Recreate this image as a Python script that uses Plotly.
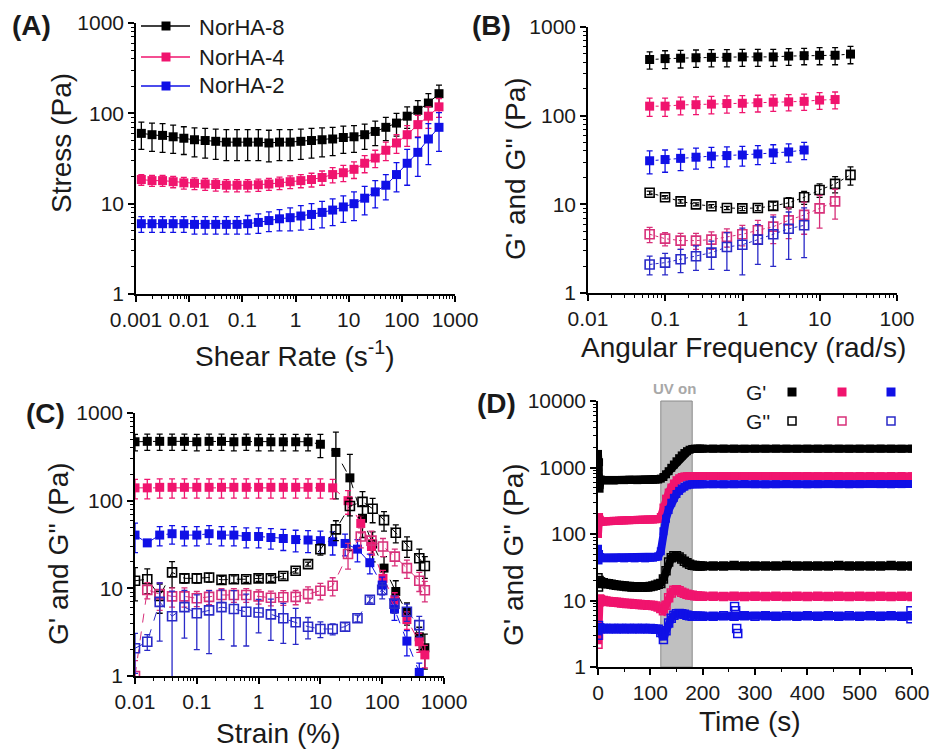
import plotly.graph_objects as go

W, H = 932, 751
FONT = "Liberation Sans, Arial, sans-serif"
BLACK = "#000000"
PINK = "#f0146e"
BLUE = "#1010e6"
PINK_OPEN = "#d8307a"
BLUE_OPEN = "#2a2ac8"

# ---------------- (A) flow sweep: stress vs shear rate ----------------
shear_rate = [0.00126, 0.002, 0.00316, 0.005, 0.00794, 0.0126, 0.02, 0.0316, 0.05, 0.0794,
              0.126, 0.2, 0.316, 0.5, 0.794, 1.26, 2, 3.16, 5, 7.94,
              12.6, 20, 31.6, 50, 79.4, 126, 200, 316, 500]
stress_8 = [60, 58, 57, 55, 53, 51, 50, 49, 48, 48, 48, 48, 47, 48, 48, 49, 50, 51, 52, 54,
            55, 58, 63, 70, 78, 93, 108, 130, 165]
stress_8_err = [20, 20, 20, 19, 18, 18, 18, 18, 18, 18, 18, 18, 18, 18, 18, 18, 18, 18, 18, 18,
                18, 18, 19, 20, 22, 25, 30, 35, 40]
stress_4 = [18.5, 18, 18, 17.5, 17, 16.8, 16.5, 16.3, 16, 16, 16, 16.2, 16.5, 17, 17.5, 18, 18.5, 19.5, 21, 22,
            24, 28, 32, 39, 47, 58, 75, 93, 118]
stress_4_err = [2.5, 2.5, 2.5, 2.5, 2.5, 2.5, 2.5, 2.5, 2.5, 2.5, 2.5, 2.5, 2.5, 2.7, 2.8, 3, 3.2, 3.5, 4, 4.5,
                5, 6, 7, 9, 11, 15, 20, 25, 28]
stress_2 = [6, 6, 6, 6, 6, 5.9, 5.9, 5.9, 5.9, 5.9, 6, 6.2, 6.5, 6.8, 7, 7.3, 7.6, 8, 8.5, 9.2,
            10, 11.5, 13.5, 16, 21, 28, 37, 52, 70]
stress_2_err = [1.2, 1.2, 1.2, 1.2, 1.2, 1.3, 1.3, 1.3, 1.3, 1.3, 1.4, 1.5, 1.6, 1.8, 2, 2.2, 2.4, 2.6, 2.8, 3,
                3.5, 4, 4.5, 5, 7.5, 12, 17, 25, 32]
series_names = ["NorHA-8", "NorHA-4", "NorHA-2"]

# ---------------- (B) frequency sweep ----------------
ang_freq = [0.0628, 0.0995, 0.158, 0.25, 0.396, 0.628, 0.995, 1.58, 2.5, 3.96, 6.28, 9.95, 15.8, 25]
gp_b_8 = [430, 440, 445, 450, 455, 455, 460, 460, 460, 470, 475, 480, 480, 495]
gp_b_8_err = [95, 100, 100, 100, 100, 100, 100, 100, 100, 100, 100, 105, 105, 110]
gp_b_4 = [128, 128, 132, 133, 135, 137, 138, 140, 142, 143, 145, 150, 152]
gp_b_4_err = [30, 30, 30, 30, 30, 30, 30, 30, 30, 30, 30, 32, 33]
gp_b_2 = [31, 32, 33, 34, 35, 35.5, 36, 37, 38, 39, 41]
gp_b_2_err = [9, 9, 9, 9, 9, 9, 9, 9, 9, 9, 9]
gpp_b_8 = [13.5, 12, 10.8, 10, 9.5, 9.1, 9.0, 9.1, 9.6, 10.4, 12, 14.5, 17, 21.5]
gpp_b_8_err = [0.6, 0.5, 0.5, 0.4, 0.4, 0.4, 0.5, 0.6, 1, 1.5, 2, 2.5, 3.5, 5]
gpp_b_4 = [4.6, 4.1, 3.9, 3.9, 4.0, 4.3, 4.6, 5.1, 5.6, 6.6, 7.6, 9.0, 10.8]
gpp_b_4_err = [0.9, 0.7, 0.8, 0.8, 0.9, 1.0, 1.2, 1.5, 2.0, 2.5, 3.0, 3.6, 4.0]
gpp_b_2 = [2.1, 2.2, 2.4, 2.6, 2.85, 3.3, 3.5, 4.0, 4.6, 5.3, 5.8]
gpp_b_2_err = [0.5, 0.6, 0.7, 0.8, 1.0, 1.5, 1.9, 1.9, 2.6, 2.9, 3.3]

# ---------------- (C) strain sweep ----------------
strain_8 = [0.01, 0.0158, 0.0251, 0.0398, 0.0631, 0.1, 0.158, 0.251, 0.398, 0.631, 1, 1.58, 2.51,
            3.98, 6.31, 10, 17.8, 30, 48, 70, 107, 166, 252, 398, 490]
strain_4 = [0.01, 0.0158, 0.0251, 0.0398, 0.0631, 0.1, 0.158, 0.251, 0.398, 0.631, 1, 1.58, 2.51,
            3.98, 6.31, 10, 15.8, 28, 45, 67, 103, 160, 251, 398, 490]
strain_2 = [0.01, 0.0158, 0.0251, 0.0398, 0.0631, 0.1, 0.158, 0.251, 0.398, 0.631, 1, 1.58, 2.51,
            3.98, 6.31, 10, 15.8, 25.1, 39.8, 63.1, 100, 158, 251, 398]
gp_c_8 = [470, 475, 475, 475, 475, 470, 475, 475, 470, 475, 470, 470, 470, 470, 470, 440, 355, 182,
          63, 32, 17, 9.2, 5.3, 2.8, 2.1]
gp_c_8_err = [100, 100, 100, 100, 100, 100, 100, 100, 100, 100, 100, 100, 100, 100, 100, 130, 250, 155,
              25, 12, 6, 3, 1.5, 0.8, 0.9]
gp_c_4 = [140, 140, 142, 142, 142, 142, 142, 142, 142, 142, 142, 142, 142, 142, 142, 142, 140, 100,
          55, 30, 13, 7.4, 4.4, 2.46, 1.74]
gp_c_4_err = [35, 35, 35, 35, 35, 35, 35, 35, 35, 35, 35, 35, 35, 35, 35, 35, 35, 30,
              12, 6, 3, 1.5, 1, 0.6, 0.5]
gp_c_2 = [40.5, 33, 40.5, 42, 40.5, 40.5, 42, 40.5, 40.5, 39, 39, 38, 37, 36, 35.6, 35, 34, 32.5,
          28, 19.6, 10.9, 5.8, 2.5, 1.1]
gp_c_2_err = [15, 2, 10, 10, 10, 10, 10, 10, 10, 10, 10, 10, 10, 10, 10, 10, 10, 9,
              8, 5, 2.5, 1.5, 0.8, 0.3]
gpp_c_8 = [12.2, 12.7, 8.2, 15.2, 13, 13, 13.3, 12.5, 12.7, 12.7, 13, 13, 13.8, 15.9, 18.9, 27.9, 47, 87,
           97, 81, 60, 43, 30.6, 22, 18]
gpp_c_8_err = [5, 4, 3, 5, 1.5, 1.5, 1.5, 1.2, 1.2, 1, 1, 1, 1, 1, 1, 4, 12, 20,
               30, 25, 15, 10, 8, 6, 5]
gpp_c_4 = [1.0, 9.6, 8.6, 8.1, 8.1, 7.7, 8.0, 8.4, 8.4, 8.4, 8.1, 7.8, 7.9, 8.0, 8.6, 9.4, 10.7, 24.6,
           39, 35, 30, 23, 17, 12.2, 9.5]
gpp_c_4_err = [0.5, 2, 3, 2, 2, 1.5, 1.5, 1.5, 1.5, 1.5, 1.5, 1.5, 1.5, 1.5, 1.8, 2, 2.5, 8,
               10, 10, 7, 5, 4, 3, 2.5]
gpp_c_2 = [2.07, 2.46, 7.0, 4.8, 6.1, 5.2, 5.6, 6.1, 5.8, 5.4, 5.3, 5.05, 4.55, 4.1, 3.65, 3.44, 3.44, 3.65,
           4.55, 7.4, 9.6, 6.7, 5.4, 3.8]
gpp_c_2_err = [1, 0.5, 4.5, 4.5, 3.4, 3.2, 3.8, 3.5, 3.6, 3.2, 2.2, 2.5, 2.2, 1.8, 1, 0.7, 0.5, 0.4,
               0.4, 0.6, 2, 1.5, 1.2, 1]

# ---------------- (D) time sweep with UV exposure ----------------
time_s = [0, 1, 2, 3, 4] + list(range(5, 201, 5)) + list(range(220, 601, 20))
gp_d_8 = [1600, 1000, 1200, 480, 640,
          660, 650, 640, 645, 650, 640, 645, 650, 650, 645, 650, 655, 650, 650, 645, 650, 650, 655, 650,
          650, 655, 655, 660,
          680, 720, 790, 880, 990, 1110, 1240, 1380, 1520, 1650, 1760, 1850, 1900, 1920, 1925, 1925, 1920,
          1920, 1925, 1920, 1915, 1920, 1920, 1925, 1920, 1915, 1920, 1920, 1925, 1920, 1915, 1920, 1920,
          1925, 1920, 1915, 1920]
gp_d_4 = [100, 150, 180, 165, 160,
          152, 154, 155, 156, 157, 158, 158, 159, 160, 160, 161, 161, 162, 162, 163, 163, 164, 164, 165,
          165, 165, 166, 168,
          180, 250, 340, 420, 500, 575, 645, 690, 720, 735, 740, 745, 745, 745, 745, 745, 745,
          745, 740, 745, 745, 740, 745, 745, 740, 745, 745, 740, 745, 745, 740, 745, 745, 740, 745, 745, 740]
gp_d_2 = [60, 40, 50, 44, 45,
          44, 44, 43, 44, 44, 43, 44, 44, 44, 43, 44, 44, 44, 43, 44, 44, 44, 43, 44,
          44, 44, 45, 46,
          55, 110, 170, 230, 295, 350, 400, 445, 485, 515, 540, 555, 560, 562, 562, 562, 562,
          562, 560, 562, 565, 562, 560, 562, 565, 562, 560, 562, 565, 562, 560, 562, 565, 562, 560, 562, 565]
gpp_d_8 = [22, 16, 20, 18, 19,
           19, 18.5, 18, 17.8, 17.5, 17.3, 17, 16.8, 16.6, 16.5, 16.3, 16.2, 16, 16, 16, 15.8, 15.8, 16, 16,
           16.2, 16.5, 17, 17.5,
           18, 21, 28, 38, 44, 47, 47, 45, 42, 39, 37, 35, 34, 33.5, 33, 33, 33,
           33, 33, 33.5, 33, 33, 33, 33, 33.5, 33, 33, 33, 33, 33.5, 33, 33, 33, 33, 33.5, 33, 33]
gpp_d_4 = [2.2, 3.0, 9.5, 10.5, 10.3,
           10.2, 10, 9.8, 9.7, 9.6, 9.5, 9.4, 9.3, 9.2, 9.1, 9.0, 9.0, 8.9, 8.8, 8.8, 8.7, 8.6, 8.6, 8.5,
           8.5, 8.4, 8.3, 8.0,
           7.6, 7.0, 8.5, 11, 13, 14.3, 14.5, 14, 13.3, 12.8, 12.4, 12.1, 12, 11.8, 11.7, 11.6, 11.6,
           11.6, 11.5, 11.6, 11.5, 11.6, 11.5, 11.6, 11.5, 11.6, 11.5, 11.6, 11.5, 11.6, 11.5, 11.6, 11.5,
           11.6, 11.5, 11.6, 11.5]
gpp_d_2 = [3.0, 4.2, 3.9, 3.8, 3.8,
           3.8, 3.8, 3.8, 3.75, 3.8, 3.8, 3.75, 3.8, 3.8, 3.75, 3.8, 3.8, 3.75, 3.8, 3.8, 3.75, 3.8, 3.8,
           3.75, 3.8, 3.75, 3.7, 3.7,
           3.3, 2.6, 3.5, 4.6, 5.4, 6.0, 6.3, 6.4, 6.3, 6.2, 6.0, 5.9, 5.8, 5.8, 5.8, 5.8, 5.8,
           5.8, 5.9, 5.8, 5.9, 5.8, 5.9, 5.8, 5.9, 5.8, 5.9, 5.8, 5.9, 5.8, 5.9, 5.8, 5.9, 5.8, 5.9, 5.8, 5.9]
time_s_extra = [261, 263, 265, 267, 598, 598]
gpp_d_2_extra = [8.1, 7.0, 3.8, 3.2, 7.0, 5.3]
uv_on = [120, 180]


def xdom(left, right):
    return [left / W, right / W]


def ydom(top, bottom):
    return [1 - bottom / H, 1 - top / H]


def log_minor(lo, hi):
    return [m * 10 ** e for e in range(lo, hi) for m in range(2, 10)]


def base_axis(**kw):
    ax = dict(showline=True, linecolor="black", linewidth=1.5, ticks="outside", ticklen=6,
              tickwidth=1.5, tickcolor="black", showgrid=False, zeroline=False, mirror=False,
              automargin=False, tickfont=dict(family=FONT, size=21, color="#1a1a1a"))
    ax.update(kw)
    return ax


def log_axis(lo, hi, labels, **kw):
    return base_axis(type="log", range=[lo, hi], tickmode="array",
                     tickvals=[10 ** e for e in range(lo, hi + 1)], ticktext=labels,
                     minor=dict(tickmode="array", tickvals=log_minor(lo, hi), ticks="outside",
                                ticklen=3, tickwidth=1, tickcolor="black", showgrid=False),
                     **kw)


def err(arr, color):
    return dict(type="data", array=arr, visible=True, color=color, thickness=1.3, width=3)


fig = go.Figure()

# (A)
for y, e, c in [(stress_8, stress_8_err, BLACK), (stress_4, stress_4_err, PINK),
                (stress_2, stress_2_err, BLUE)]:
    fig.add_trace(go.Scatter(x=shear_rate, y=y, mode="lines+markers",
                             line=dict(color=c, width=1),
                             marker=dict(symbol="square", size=9, color=c),
                             error_y=err(e, c), xaxis="x", yaxis="y", showlegend=False))

# (B)
for x_len, y, e, c in [(14, gp_b_8, gp_b_8_err, BLACK), (13, gp_b_4, gp_b_4_err, PINK),
                       (11, gp_b_2, gp_b_2_err, BLUE)]:
    fig.add_trace(go.Scatter(x=ang_freq[:x_len], y=y, mode="lines+markers",
                             line=dict(color=c, width=1, dash="dot"),
                             marker=dict(symbol="square", size=9, color=c),
                             error_y=err(e, c), xaxis="x2", yaxis="y2", showlegend=False))
for x_len, y, e, c in [(14, gpp_b_8, gpp_b_8_err, BLACK), (13, gpp_b_4, gpp_b_4_err, PINK_OPEN),
                       (11, gpp_b_2, gpp_b_2_err, BLUE_OPEN)]:
    fig.add_trace(go.Scatter(x=ang_freq[:x_len], y=y, mode="lines+markers",
                             line=dict(color=c, width=1, dash="dot"),
                             marker=dict(symbol="square-open", size=9, color=c, line=dict(width=1.6)),
                             error_y=err(e, c), xaxis="x2", yaxis="y2", showlegend=False))

# (C)
for x, y, e, c in [(strain_8, gp_c_8, gp_c_8_err, BLACK), (strain_4, gp_c_4, gp_c_4_err, PINK),
                   (strain_2, gp_c_2, gp_c_2_err, BLUE)]:
    fig.add_trace(go.Scatter(x=x, y=y, mode="lines+markers",
                             line=dict(color=c, width=1, dash="dash"),
                             marker=dict(symbol="square", size=9, color=c),
                             error_y=err(e, c), xaxis="x3", yaxis="y3", showlegend=False))
for x, y, e, c in [(strain_8, gpp_c_8, gpp_c_8_err, BLACK), (strain_4, gpp_c_4, gpp_c_4_err, PINK_OPEN),
                   (strain_2, gpp_c_2, gpp_c_2_err, BLUE_OPEN)]:
    fig.add_trace(go.Scatter(x=x, y=y, mode="lines+markers",
                             line=dict(color=c, width=1, dash="dash"),
                             marker=dict(symbol="square-open", size=9, color=c, line=dict(width=1.6)),
                             error_y=err(e, c), xaxis="x3", yaxis="y3", showlegend=False))

# (D)
for y, c in [(gp_d_8, BLACK), (gp_d_4, PINK), (gp_d_2, BLUE)]:
    fig.add_trace(go.Scatter(x=time_s, y=y, mode="lines+markers",
                             line=dict(color=c, width=8),
                             marker=dict(symbol="square", size=8, color=c),
                             xaxis="x4", yaxis="y4", showlegend=False))
for y, c in [(gpp_d_8, BLACK), (gpp_d_4, PINK), (gpp_d_2, BLUE)]:
    fig.add_trace(go.Scatter(x=time_s, y=y, mode="lines+markers",
                             line=dict(color=c, width=8),
                             marker=dict(symbol="square-open", size=8, color=c, line=dict(width=1.5)),
                             xaxis="x4", yaxis="y4", showlegend=False))
fig.add_trace(go.Scatter(x=time_s_extra, y=gpp_d_2_extra, mode="markers",
                         marker=dict(symbol="square-open", size=8, color=BLUE, line=dict(width=1.5)),
                         xaxis="x4", yaxis="y4", showlegend=False))

shapes = [dict(type="rect", xref="x4", yref="y4 domain", x0=uv_on[0], x1=uv_on[1], y0=0, y1=1,
               fillcolor="#c0c0c0", line=dict(color="#8a8a8a", width=1), layer="below")]


def px_rect(xc, yc, half, fill, edge=None):
    return dict(type="rect", xref="paper", yref="paper",
                x0=(xc - half) / W, x1=(xc + half) / W, y0=1 - (yc + half) / H, y1=1 - (yc - half) / H,
                fillcolor=fill, line=dict(color=edge or fill, width=1.5 if edge else 0))


# key for (A): line with a square marker, per series
for yc, c in [(26, BLACK), (57, PINK), (86, BLUE)]:
    shapes.append(dict(type="line", xref="paper", yref="paper", x0=141 / W, x1=190 / W,
                       y0=1 - yc / H, y1=1 - yc / H, line=dict(color=c, width=1.3)))
    shapes.append(px_rect(166, yc, 4.5, c))

# key for (D): filled = G', open = G''
for xc, c, co in [(792, BLACK, BLACK), (842, PINK, PINK_OPEN), (891, BLUE, BLUE_OPEN)]:
    shapes.append(px_rect(xc, 392, 4.5, c))
    shapes.append(px_rect(xc, 421, 4, "white", co))


def note(text, x, y, size, angle=0, bold=False, color="#1a1a1a", anchor="center"):
    if bold:
        text = "<b>" + text + "</b>"
    return dict(text=text, x=x / W, y=1 - y / H, xref="paper", yref="paper", showarrow=False,
                xanchor=anchor, yanchor="middle", textangle=angle,
                font=dict(family=FONT, size=size, color=color))


annotations = [
    note("(A)", 31, 26, 28, bold=True),
    note("(B)", 491, 26, 28, bold=True),
    note("(C)", 45, 413, 28, bold=True),
    note("(D)", 497, 403, 28, bold=True),
    note("Stress (Pa)", 62, 143, 28, angle=-90),
    note("Shear Rate (s<sup>-1</sup>)", 295, 354, 28),
    note("G' and G'' (Pa)", 515, 169, 28, angle=-90),
    note("Angular Frequency (rad/s)", 743, 347, 28),
    note("G' and G'' (Pa)", 58, 554, 28, angle=-90),
    note("Strain (%)", 278, 733, 28),
    note("G' and G'' (Pa)", 513, 555, 28, angle=-90),
    note("Time (s)", 750, 721, 28),
    note("UV on", 674, 388, 15, bold=True, color="#a8a8a8"),
    note("G'", 744, 392, 21, anchor="left"),
    note("G''", 744, 421, 21, anchor="left"),
]
for yc, name in zip([27, 57, 86], series_names):
    annotations.append(note(name, 197, yc, 22, anchor="left"))

fig.update_layout(
    width=W, height=H, margin=dict(l=0, r=0, t=0, b=0, autoexpand=False),
    paper_bgcolor="white", plot_bgcolor="white", showlegend=False,
    font=dict(family=FONT, color="#1a1a1a"),
    xaxis=log_axis(-3, 3, ["0.001", "0.01", "0.1", "1", "10", "100", "1000"],
                   domain=xdom(136, 455), anchor="y"),
    yaxis=log_axis(0, 3, ["1", "10", "100", "1000"], domain=ydom(23, 294), anchor="x"),
    xaxis2=log_axis(-2, 2, ["0.01", "0.1", "1", "10", "100"], domain=xdom(588, 897), anchor="y2"),
    yaxis2=log_axis(0, 3, ["1", "10", "100", "1000"], domain=ydom(27, 293), anchor="x2"),
    xaxis3=log_axis(-2, 3, ["0.01", "0.1", "1", "10", "100", "1000"], domain=xdom(135, 444), anchor="y3"),
    yaxis3=log_axis(0, 3, ["1", "10", "100", "1000"], domain=ydom(413, 676), anchor="x3"),
    xaxis4=base_axis(range=[0, 600], dtick=100, tick0=0, domain=xdom(598, 912), anchor="y4",
                     minor=dict(dtick=50, ticks="outside", ticklen=3, tickwidth=1, tickcolor="black")),
    yaxis4=log_axis(0, 4, ["1", "10", "100", "1000", "10000"], domain=ydom(401, 667), anchor="x4"),
    shapes=shapes,
    annotations=annotations,
)

fig.write_html("out.html")
